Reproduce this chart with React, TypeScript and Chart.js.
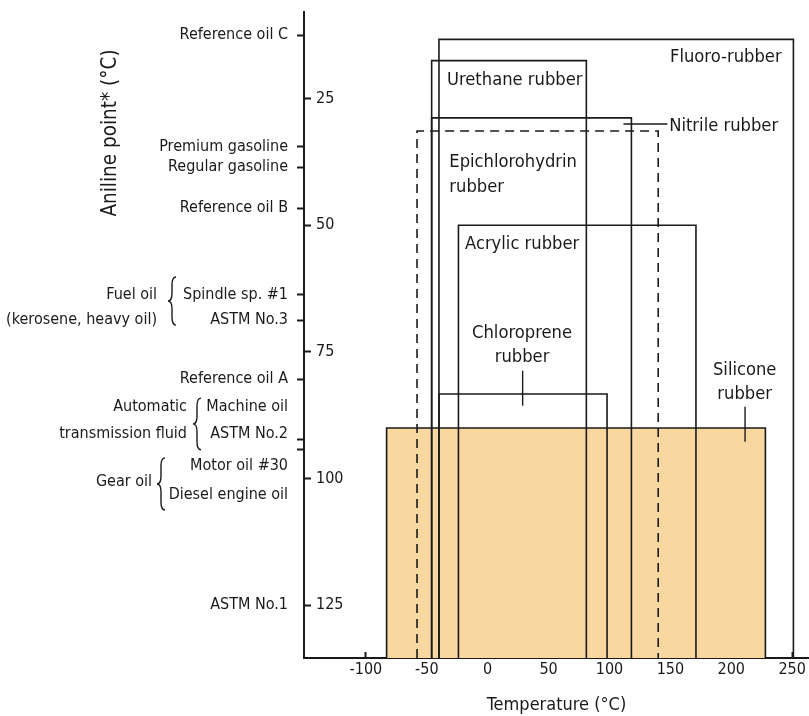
import React, { useEffect, useRef } from 'react';
import { Chart, registerables } from 'chart.js';

Chart.register(...registerables);

const FONT = "'Liberation Sans Narrow', 'Arial Narrow', 'DejaVu Sans Condensed', 'Liberation Sans', sans-serif";
const INK = '#1a1a1a';

// ---- Axis ranges ----
const X_MIN = -150.8;
const X_MAX = 263.8;
const Y_MIN = 7.9;
const Y_MAX = 135.4;

// ---- Tick values ----
const xTicks = [-100, -50, 0, 50, 100, 150, 200, 250];
const yNumTicks = [25, 50, 75, 100, 125];

// ---- Oils (aniline point) on the left axis ----
const oilNames = [
  'Reference oil C', 'Premium gasoline', 'Regular gasoline', 'Reference oil B',
  'Spindle sp. #1', 'ASTM No.3', 'Reference oil A', 'Machine oil', 'ASTM No.2',
  '', '', 'Motor oil #30', 'Diesel engine oil', 'ASTM No.1',
];
const oilAniline = [12.5, 34.5, 38.5, 46.6, 63.7, 68.7, 80.4, 85.8, 91.1, 92.3, 94.3, 97.5, 103.2, 125.0];
const oilHasTick = [true, true, true, true, true, true, true, false, false, true, true, false, false, false];

// ---- Rubbers: usable temperature range (°C) and highest aniline point reached ----
const rubberNames = [
  'Fluoro-rubber', 'Urethane rubber', 'Epichlorohydrin rubber', 'Nitrile rubber',
  'Acrylic rubber', 'Chloroprene rubber', 'Silicone rubber',
];
const rubberTempMin = [-40, -46, -46, -58, -24, -40, -83];
const rubberTempMax = [251, 81, 118, 140, 171, 98, 228];
const rubberAnilineTop = [13.3, 17.5, 28.8, 31.4, 50.0, 83.3, 90.0];
const rubberDashed = [false, false, false, true, false, false, false];
const rubberFilled = [false, false, false, false, false, false, true];

// ---- Text annotations inside the plot (data coordinates) ----
type Note = { lines: string[]; x: number; y: number; align: CanvasTextAlign };
const notes: Note[] = [
  { lines: ['Fluoro-rubber'], x: 149.7, y: 16.8, align: 'left' },
  { lines: ['Urethane rubber'], x: -33.4, y: 21.3, align: 'left' },
  { lines: ['Nitrile rubber'], x: 149.0, y: 30.4, align: 'left' },
  { lines: ['Epichlorohydrin', 'rubber'], x: -31.5, y: 37.6, align: 'left' },
  { lines: ['Acrylic rubber'], x: -18.6, y: 53.7, align: 'left' },
  { lines: ['Chloroprene', 'rubber'], x: 28.2, y: 71.3, align: 'center' },
  { lines: ['Silicone', 'rubber'], x: 211.0, y: 78.6, align: 'center' },
];
// leader lines [x1, y1, x2, y2]
const leaders = [
  [111.5, 30.0, 147.5, 30.0],
  [28.7, 78.7, 28.7, 85.6],
  [211.3, 85.8, 211.3, 92.7],
];

// ---- Grouped oil labels with braces ----
const groups = [
  { lines: ['Fuel oil', '(kerosene, heavy oil)'], ys: [63.7, 68.7], right: 157, brace: [168, 60.2, 69.7] },
  { lines: ['Automatic', 'transmission fluid'], ys: [85.8, 91.1], right: 187, brace: [193, 84.1, 94.3] },
  { lines: ['Gear oil'], ys: [100.6], right: 152, brace: [157, 95.9, 106.2] },
];

function drawBrace(ctx: CanvasRenderingContext2D, x: number, y1: number, y2: number, w: number) {
  const ym = (y1 + y2) / 2;
  const r = Math.min(w, (y2 - y1) / 4);
  const xm = x + w / 2;
  ctx.beginPath();
  ctx.moveTo(x + w, y1);
  ctx.quadraticCurveTo(xm, y1, xm, y1 + r);
  ctx.lineTo(xm, ym - r);
  ctx.quadraticCurveTo(xm, ym, x, ym);
  ctx.quadraticCurveTo(xm, ym, xm, ym + r);
  ctx.lineTo(xm, y2 - r);
  ctx.quadraticCurveTo(xm, y2, x + w, y2);
  ctx.stroke();
}

const notesPlugin = {
  id: 'notes',
  afterDraw(chart: any) {
    const { ctx, scales } = chart;
    const xs = scales.x;
    const ys = scales.y;
    ctx.save();
    ctx.fillStyle = INK;
    ctx.strokeStyle = INK;
    ctx.lineWidth = 1.4;
    ctx.textBaseline = 'middle';
    ctx.font = `18.2px ${FONT}`;
    const lh = 24.5;
    for (const n of notes) {
      ctx.textAlign = n.align;
      const px = xs.getPixelForValue(n.x);
      const py = ys.getPixelForValue(n.y);
      n.lines.forEach((t, i) => ctx.fillText(t, px, py + i * lh));
    }
    for (const l of leaders) {
      ctx.beginPath();
      ctx.moveTo(xs.getPixelForValue(l[0]), ys.getPixelForValue(l[1]));
      ctx.lineTo(xs.getPixelForValue(l[2]), ys.getPixelForValue(l[3]));
      ctx.stroke();
    }
    // grouped labels on the left
    ctx.font = `16px ${FONT}`;
    ctx.textAlign = 'right';
    for (const g of groups) {
      g.lines.forEach((t, i) => ctx.fillText(t, g.right, ys.getPixelForValue(g.ys[i])));
      ctx.lineWidth = 1.4;
      drawBrace(ctx, g.brace[0], ys.getPixelForValue(g.brace[1]), ys.getPixelForValue(g.brace[2]), 8);
    }
    // y axis title
    ctx.save();
    ctx.translate(111, 133);
    ctx.rotate(-Math.PI / 2);
    ctx.textAlign = 'center';
    ctx.font = `20.5px ${FONT}`;
    ctx.fillText('Aniline point* (°C)', 0, 0);
    ctx.restore();
    ctx.restore();
  },
};

export default function App() {
  const ref = useRef<HTMLCanvasElement>(null);
  useEffect(() => {
    const datasets = rubberNames.map((name, i) => ({
      label: name,
      data: [
        { x: rubberTempMin[i], y: Y_MAX },
        { x: rubberTempMin[i], y: rubberAnilineTop[i] },
        { x: rubberTempMax[i], y: rubberAnilineTop[i] },
        { x: rubberTempMax[i], y: Y_MAX },
      ],
      showLine: true,
      borderColor: INK,
      borderWidth: 1.6,
      borderDash: rubberDashed[i] ? [9, 6] : [],
      pointRadius: 0,
      tension: 0,
      fill: rubberFilled[i] ? { value: Y_MAX } : false,
      backgroundColor: rubberFilled[i] ? '#F9D7A0' : 'transparent',
      yAxisID: 'y',
      xAxisID: 'x',
    }));

    const tickFont = { size: 16, family: FONT };
    const chart = new Chart(ref.current as HTMLCanvasElement, {
      type: 'scatter',
      data: { datasets },
      plugins: [notesPlugin],
      options: {
        animation: false,
        responsive: false,
        devicePixelRatio: 1,
        layout: { padding: { top: 12, left: 0, right: 0, bottom: 0 } },
        plugins: { legend: { display: false }, tooltip: { enabled: false } },
        scales: {
          x: {
            type: 'linear',
            position: 'bottom',
            min: X_MIN,
            max: X_MAX,
            afterBuildTicks: (s: any) => { s.ticks = xTicks.map((v) => ({ value: v })); },
            afterFit: (s: any) => { s.height = 58; s.paddingLeft = 0; s.paddingRight = 0; },
            ticks: { font: tickFont, color: INK, padding: 8, maxRotation: 0, autoSkip: false, callback: (v: any) => String(v) },
            grid: { display: true, drawOnChartArea: false, drawTicks: true, tickLength: -6, tickWidth: 2, tickColor: INK },
            border: { display: true, width: 2, color: INK },
            title: { display: true, text: 'Temperature (°C)', color: INK, font: { size: 18, family: FONT, lineHeight: 1.1 }, padding: { top: 0, bottom: 1 } },
          },
          yOil: {
            type: 'linear',
            position: 'left',
            weight: 1,
            reverse: true,
            min: Y_MIN,
            max: Y_MAX,
            afterBuildTicks: (s: any) => { s.ticks = oilAniline.map((v) => ({ value: v })); },
            afterFit: (s: any) => { s.width = 304; s.paddingTop = 0; s.paddingBottom = 0; },
            ticks: {
              font: tickFont, color: INK, padding: 9, autoSkip: false,
              callback: (_v: any, i: number) => oilNames[i],
            },
            grid: {
              display: true, drawOnChartArea: false, drawTicks: true, tickLength: 7, tickWidth: 2,
              tickColor: (c: any) => (oilHasTick[c.index] ? INK : 'rgba(0,0,0,0)'),
            },
            border: { display: true, width: 2, color: INK },
          },
          y: {
            type: 'linear',
            position: 'left',
            weight: 0,
            reverse: true,
            min: Y_MIN,
            max: Y_MAX,
            afterBuildTicks: (s: any) => { s.ticks = yNumTicks.map((v) => ({ value: v })); },
            afterFit: (s: any) => { s.width = 0; s.paddingTop = 0; s.paddingBottom = 0; },
            ticks: { font: tickFont, color: INK, padding: 12, mirror: true, autoSkip: false, callback: (v: any) => String(v) },
            grid: { display: true, drawOnChartArea: false, drawTicks: true, tickLength: -7, tickWidth: 2, tickColor: INK },
            border: { display: false },
          },
        },
      } as any,
    });
    return () => chart.destroy();
  }, []);

  return (
    <div style={{ position: 'absolute', left: 0, top: 0, width: 809, height: 716, background: '#fff' }}>
      <canvas ref={ref} width={809} height={716} style={{ display: 'block', width: 809, height: 716 }} />
    </div>
  );
}
